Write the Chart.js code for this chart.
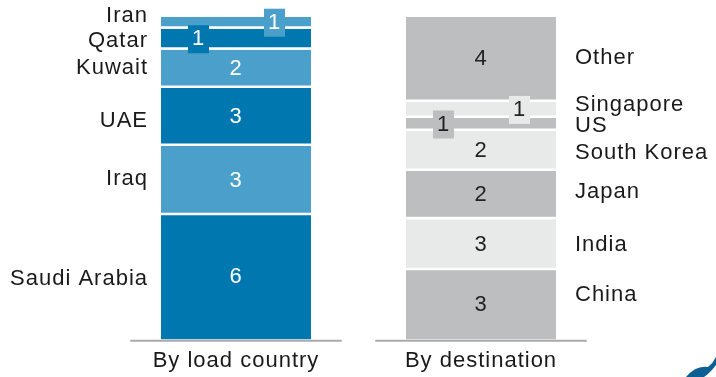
<!DOCTYPE html>
<html>
<head>
<meta charset="utf-8">
<script src="https://cdn.jsdelivr.net/npm/chart.js@4.4.1/dist/chart.umd.min.js"></script>
<style>
  html, body { margin: 0; padding: 0; background: #fff; }
  #wrap { width: 716px; height: 377px; }
</style>
</head>
<body>
<div id="wrap"><canvas id="chart" width="716" height="377"></canvas></div>
<script>
var categories = ["By load country", "By destination"];

// stacks listed bottom to top
var loadCountries = ["Saudi Arabia", "Iraq", "UAE", "Kuwait", "Qatar", "Iran"];
var loadValues = [6.2, 3.45, 2.9, 1.9, 1.05, 0.6];

var destinations = ["China", "India", "Japan", "South Korea", "US", "Singapore", "Other"];
var destValues = [3.45, 2.55, 2.4, 2.0, 0.65, 0.8, 4.25];

var yMax = 16.1;

// colours
var darkBlue = "#0077ae", lightBlue = "#4ba0cb";
var darkGrey = "#bdbebf", lightGrey = "#e8e9e9";
var FONT = "'Liberation Sans', Arial, sans-serif";

// small vertical nudges for the side labels (px)
var labelNudge = { "Iran": -7, "UAE": 4, "Japan": -3, "China": -10, "Singapore": -5, "US": 1, "Qatar": 1.5, "Kuwait": -1.3, "Iraq": -1.5, "Saudi Arabia": 1.5, "South Korea": 1.5, "Other": -1 };

var datasets = [];
loadCountries.forEach(function (name, i) {
    datasets.push({
        label: name, data: [loadValues[i], null],
        backgroundColor: i % 2 ? lightBlue : darkBlue,
        borderColor: "#fff", borderSkipped: false,
        borderWidth: { top: 0, left: 0, right: 0, bottom: i === 0 ? 0 : 2.5 },
        side: 0, idx: i, textColor: "#fff"
    });
});
destinations.forEach(function (name, i) {
    datasets.push({
        label: name, data: [null, destValues[i]],
        backgroundColor: i % 2 ? lightGrey : darkGrey,
        borderColor: "#fff", borderSkipped: false,
        borderWidth: { top: 0, left: 0, right: 0, bottom: i === 0 ? 0 : 2.5 },
        side: 1, idx: i, textColor: "#222"
    });
});

var labelsPlugin = {
    id: "segLabels",
    beforeDraw: function (chart) {
        chart.ctx.letterSpacing = "1px";
    },
    afterDatasetsDraw: function (chart) {
        var ctx = chart.ctx;
        var bottom = chart.chartArea.bottom;
        ctx.save();
        ctx.font = "22px " + FONT;
        ctx.textBaseline = "middle";

        // baseline under each bar
        var first = chart.getDatasetMeta(0).data[0];
        var last = chart.getDatasetMeta(datasets.length - 1).data[1];
        [first, last].forEach(function (el) {
            var w = el.width * 1.41;
            ctx.strokeStyle = "#aaaaaa";
            ctx.lineWidth = 2;
            ctx.beginPath();
            ctx.moveTo(el.x - w / 2, bottom + 1.2);
            ctx.lineTo(el.x + w / 2, bottom + 1.2);
            ctx.stroke();
        });

        var callouts = [];
        datasets.forEach(function (ds, d) {
            var el = chart.getDatasetMeta(d).data[ds.side];
            var top = el.y, base = el.base;
            var cy = (top + base) / 2;
            var h = base - top;
            var val = Math.round(ds.data[ds.side]);

            // side label
            ctx.fillStyle = "#1a1a1a";
            var ly = cy + (labelNudge[ds.label] || 0);
            if (ds.side === 0) {
                ctx.textAlign = "right";
                ctx.fillText(ds.label, el.x - el.width / 2 - 13, ly);
            } else {
                ctx.textAlign = "left";
                ctx.fillText(ds.label, el.x + el.width / 2 + 19, ly);
            }

            if (h < 25) {
                callouts.push({ x: el.x + (ds.idx % 2 ? 38.5 : -37.5), y: cy, bg: ds.backgroundColor, fg: ds.textColor, v: val });
            } else {
                ctx.textAlign = "center";
                ctx.fillStyle = ds.textColor;
                ctx.fillText(String(val), el.x, cy);
            }
        });

        callouts.forEach(function (c) {
            ctx.fillStyle = c.bg;
            ctx.fillRect(c.x - 10.5, c.y - 14, 21, 28);
            ctx.fillStyle = c.fg;
            ctx.textAlign = "center";
            ctx.fillText(String(c.v), c.x, c.y);
        });

        // corner of the logo, cropped at the bottom right
        var W = chart.width, H = chart.height;
        ctx.fillStyle = "#0d5f93";
        ctx.beginPath();
        ctx.moveTo(W - 30, H);
        ctx.quadraticCurveTo(W - 20, H - 12, W - 8, H - 10);
        ctx.quadraticCurveTo(W - 3, H - 14, W, H - 20);
        ctx.lineTo(W, H - 12);
        ctx.quadraticCurveTo(W - 6, H - 4, W - 12, H);
        ctx.closePath();
        ctx.fill();
        ctx.restore();
    }
};

new Chart(document.getElementById("chart").getContext("2d"), {
    type: "bar",
    data: { labels: categories, datasets: datasets },
    options: {
        responsive: false,
        animation: false,
        layout: { padding: { left: 113.5, right: 112.5, top: 16.7, bottom: 0 } },
        datasets: { bar: { barPercentage: 1, categoryPercentage: 150 / 245 } },
        plugins: { legend: { display: false }, tooltip: { enabled: false } },
        scales: {
            x: {
                stacked: true,
                grid: { display: false, drawTicks: false },
                border: { display: false },
                ticks: { color: "#1a1a1a", padding: 10.5, font: { family: FONT, size: 22, lineHeight: 1 } },
                afterFit: function (scale) { scale.height = 37.5; }
            },
            y: { stacked: true, display: false, min: 0, max: yMax }
        }
    },
    plugins: [labelsPlugin]
});
</script>
</body>
</html>
